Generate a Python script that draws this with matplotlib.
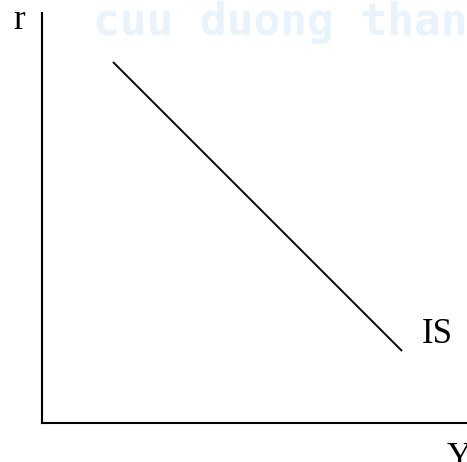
import matplotlib.pyplot as plt

# IS curve: income Y against interest rate r (axes units, origin at lower left)
is_y = [71, 360]
is_r = [361, 72]

axis_labels = ['r', 'Y']
curve_label = 'IS'
watermark = 'cuu duong than'

W, H = 467, 462
fig = plt.figure(figsize=(W / 100, H / 100), dpi=100)

# axes origin at pixel (42, 423), y-axis up to pixel row 13
ax = fig.add_axes([42 / W, (H - 423) / H, (W - 42) / W, (423 - 13) / H])
ax.set_xlim(0, W - 42)
ax.set_ylim(0, 423 - 13)
ax.patch.set_alpha(0)

for side in ['top', 'right']:
    ax.spines[side].set_visible(False)
for side in ['left', 'bottom']:
    ax.spines[side].set_linewidth(1.5)
    ax.spines[side].set_color('black')
ax.set_xticks([])
ax.set_yticks([])

# faint watermark across the top
fig.text(93 / W, (H - 35) / H, watermark, family='DejaVu Sans Mono',
         fontsize=32, fontweight='semibold', color='#e8f3fb', va='baseline',
         ha='left', zorder=0)

ax.plot(is_y, is_r, color='black', lw=1.4, solid_capstyle='butt')

serif = dict(family='Liberation Serif', fontsize=25, color='black',
             va='baseline', ha='left', clip_on=False)
ax.text(-29, 394, axis_labels[0], **serif)
ax.text(380, 80, curve_label, **serif)
ax.text(405, -44, axis_labels[1], **serif)

fig.savefig('out.png', dpi=100)
